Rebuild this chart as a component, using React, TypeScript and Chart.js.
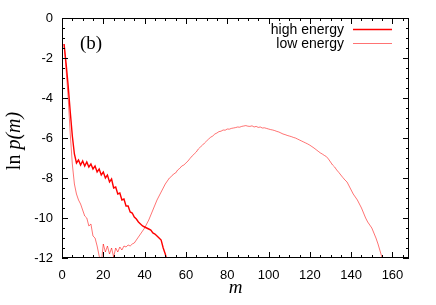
import React, { useEffect, useRef } from "react";
import { Chart, registerables } from "chart.js";

Chart.register(...registerables);

// m runs 1, 2, 3, ... for both series
const highEnergy = [
  -1.3, -2.3, -3.4, -4.7, -5.9, -6.8, -7.25, -7.1, -7.35, -7.15,
  -7.4, -7.2, -7.45, -7.3, -7.55, -7.4, -7.7, -7.55, -7.85, -7.7,
  -8.0, -7.85, -8.2, -8.05, -8.5, -8.45, -8.8, -8.75, -9.1, -9.05,
  -9.4, -9.4, -9.7, -9.75, -9.95, -10.05, -10.2, -10.3, -10.4, -10.45,
  -10.5, -10.55, -10.6, -10.75, -10.8, -10.9, -11.0, -11.1, -11.5, -11.8,
  -12.2,
];

const lowEnergy = [
  -1.3, -2.6, -4.0, -5.8, -7.3, -8.3, -8.8, -9.1, -9.3, -9.6,
  -9.9, -10.0, -10.4, -10.3, -10.9, -11.0, -11.4, -11.9, -12.3, -11.3,
  -11.7, -11.4, -11.8, -11.5, -11.95, -11.5, -11.7, -11.45, -11.6, -11.4,
  -11.45, -11.35, -11.4, -11.3, -11.25, -11.1, -10.95, -10.8, -10.65, -10.5,
  -10.3, -10.1, -9.85, -9.6, -9.35, -9.1, -8.9, -8.7, -8.5, -8.3,
  -8.15, -8.0, -7.92, -7.8, -7.75, -7.6, -7.52, -7.4, -7.35, -7.25,
  -7.15, -7.02, -6.9, -6.8, -6.7, -6.55, -6.45, -6.36, -6.25, -6.15,
  -6.05, -5.96, -5.9, -5.8, -5.75, -5.68, -5.66, -5.6, -5.61, -5.55,
  -5.56, -5.52, -5.5, -5.48, -5.45, -5.46, -5.42, -5.4, -5.38, -5.41,
  -5.42, -5.39, -5.45, -5.42, -5.47, -5.45, -5.5, -5.49, -5.52, -5.55,
  -5.58, -5.6, -5.63, -5.67, -5.7, -5.75, -5.8, -5.83, -5.87, -5.9,
  -5.93, -5.97, -6.0, -6.05, -6.1, -6.15, -6.2, -6.25, -6.3, -6.36,
  -6.43, -6.5, -6.58, -6.66, -6.74, -6.8, -6.87, -6.93, -7.05, -7.2,
  -7.35, -7.45, -7.6, -7.72, -7.85, -7.98, -8.1, -8.2, -8.4, -8.6,
  -8.8, -8.95, -9.1, -9.3, -9.5, -9.75, -10.0, -10.2, -10.35, -10.5,
  -10.75, -11.0, -11.3, -11.65, -12.0, -12.4,
];

const seriesLabels = ["high energy", "low energy"];
const xTickValues = [0, 20, 40, 60, 80, 100, 120, 140, 160];
const yTickValues = [0, -2, -4, -6, -8, -10, -12];
const xRange = [0, 168];
const yRange = [-12, 0];
const panelLabel = "(b)";

const W = 436;
const H = 305;

const framePlugin = {
  id: "frame",
  afterDraw(chart: any) {
    const { ctx, chartArea, scales } = chart;
    const { left, right, top, bottom } = chartArea;
    const x = scales.x;
    const y = scales.y;
    ctx.save();
    ctx.strokeStyle = "#000";
    ctx.lineWidth = 1;
    ctx.strokeRect(left + 0.5, top + 0.5, right - left - 1, bottom - top - 1);
    ctx.beginPath();
    // x ticks (bottom and top), minor every 5
    for (let v = xRange[0]; v <= xRange[1]; v += 5) {
      const px = Math.round(x.getPixelForValue(v)) + 0.5;
      const len = v % 20 === 0 ? 6 : 3;
      ctx.moveTo(px, bottom);
      ctx.lineTo(px, bottom - len);
      ctx.moveTo(px, top);
      ctx.lineTo(px, top + len);
    }
    // y ticks (left and right), minor every 0.5
    for (let v = yRange[0]; v <= yRange[1] + 1e-9; v += 0.5) {
      const py = Math.round(y.getPixelForValue(v)) + 0.5;
      const len = Math.abs(v % 2) < 1e-9 ? 6 : 3;
      ctx.moveTo(left, py);
      ctx.lineTo(left + len, py);
      ctx.moveTo(right, py);
      ctx.lineTo(right - len, py);
    }
    ctx.stroke();

    // legend
    ctx.font = '14px "Liberation Sans", Arial, sans-serif';
    ctx.fillStyle = "#000";
    ctx.textAlign = "right";
    ctx.textBaseline = "middle";
    const rows = [29, 43];
    chart.data.datasets.forEach((ds: any, i: number) => {
      const ry = rows[i];
      ctx.fillText(ds.label, 344, ry + 1);
      ctx.save();
      ctx.strokeStyle = ds.borderColor;
      ctx.lineWidth = ds.borderWidth;
      ctx.setLineDash(ds.borderDash || []);
      ctx.beginPath();
      ctx.moveTo(353, ry + 0.5);
      ctx.lineTo(392, ry + 0.5);
      ctx.stroke();
      ctx.restore();
    });

    // panel label
    ctx.textAlign = "left";
    ctx.textBaseline = "alphabetic";
    ctx.font = '19px "Liberation Serif", "Times New Roman", serif';
    ctx.fillText(panelLabel, 80, 49);

    // x title
    ctx.textAlign = "center";
    ctx.font = 'italic 19px "Liberation Serif", "Times New Roman", serif';
    ctx.fillText("m", (left + right) / 2, 293);

    // y title: "ln p(m)"
    ctx.translate(20, 141);
    ctx.rotate(-Math.PI / 2);
    const upright = '20px "Liberation Serif", "Times New Roman", serif';
    const italic = 'italic 20px "Liberation Serif", "Times New Roman", serif';
    ctx.font = upright;
    const w1 = ctx.measureText("ln ").width;
    ctx.font = italic;
    const w2 = ctx.measureText("p(m)").width;
    const start = -(w1 + w2) / 2;
    ctx.textAlign = "left";
    ctx.font = upright;
    ctx.fillText("ln ", start, 0);
    ctx.font = italic;
    ctx.fillText("p(m)", start + w1, 0);
    ctx.restore();
  },
};

export default function App() {
  const ref = useRef<HTMLCanvasElement | null>(null);
  useEffect(() => {
    if (!ref.current) return;
    const chart = new Chart(ref.current, {
      type: "line",
      data: {
        datasets: [
          {
            label: seriesLabels[0],
            data: highEnergy.map((v, i) => ({ x: i + 1, y: v })),
            borderColor: "#ff0000",
            borderWidth: 1.4,
            pointRadius: 0,
            tension: 0,
            clip: 0,
          },
          {
            label: seriesLabels[1],
            data: lowEnergy.map((v, i) => ({ x: i + 1, y: v })),
            borderColor: "rgba(255,0,0,0.55)",
            borderWidth: 1,
            pointRadius: 0,
            tension: 0,
            clip: 0,
          },
        ],
      },
      options: {
        animation: false,
        responsive: false,
        events: [],
        layout: { padding: { left: 0, top: 18, right: W - 409, bottom: 0 } },
        plugins: {
          legend: { display: false },
          tooltip: { enabled: false },
          title: { display: false },
        },
        scales: {
          x: {
            type: "linear",
            min: xRange[0],
            max: xRange[1],
            grid: { display: false, drawTicks: false },
            border: { display: false },
            afterBuildTicks: (s: any) => {
              s.ticks = xTickValues.map((v) => ({ value: v }));
            },
            afterFit: (s: any) => {
              s.height = H - 258;
            },
            ticks: {
              padding: 10,
              maxRotation: 0,
              autoSkip: false,
              color: "#000",
              font: { family: '"Liberation Sans", Arial, sans-serif', size: 13 },
              callback: (v: any) => String(v),
            },
          },
          y: {
            type: "linear",
            min: yRange[0],
            max: yRange[1],
            grid: { display: false, drawTicks: false },
            border: { display: false },
            afterBuildTicks: (s: any) => {
              s.ticks = yTickValues.map((v) => ({ value: v }));
            },
            afterFit: (s: any) => {
              s.width = 62;
            },
            ticks: {
              padding: 9,
              autoSkip: false,
              color: "#000",
              font: { family: '"Liberation Sans", Arial, sans-serif', size: 13 },
              callback: (v: any) => String(v),
            },
          },
        },
      },
      plugins: [framePlugin],
    });
    return () => chart.destroy();
  }, []);
  return (
    <div style={{ position: "absolute", left: 0, top: 0, width: W, height: H, background: "#fff" }}>
      <canvas ref={ref} width={W} height={H} style={{ display: "block" }} />
    </div>
  );
}
